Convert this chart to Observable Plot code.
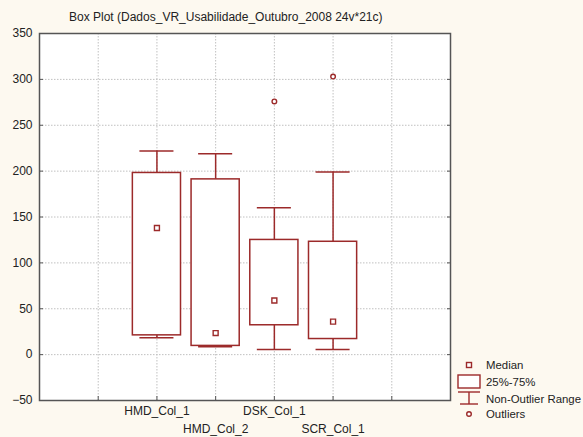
<!DOCTYPE html>
<html><head><meta charset="utf-8">
<script src="https://cdn.jsdelivr.net/npm/d3@7"></script>
<script src="https://cdn.jsdelivr.net/npm/@observablehq/plot@0.6"></script>
<style>
html,body{margin:0;padding:0;background:#fdf9f0;}
#wrap{position:relative;width:583px;height:437px;overflow:hidden;font-family:"Liberation Sans",Arial,sans-serif;}
#title{position:absolute;left:69px;top:10px;font-size:12px;line-height:14px;color:#222;white-space:nowrap;}
#legend{position:absolute;left:0;top:0;}
</style></head><body>
<div id="wrap"><div id="chart"></div><div id="title">Box Plot (Dados_VR_Usabilidade_Outubro_2008 24v*21c)</div>
<svg id="legend" width="583" height="437" style="pointer-events:none">
  <g stroke="#9c2a2a" stroke-width="1.4" fill="none">
    <rect x="466.5" y="362.5" width="5" height="5" fill="white"/>
    <rect x="458" y="375" width="22" height="13" fill="white"/>
    <line x1="458" y1="392" x2="480" y2="392"/>
    <line x1="469" y1="392" x2="469" y2="404"/>
    <line x1="460" y1="404" x2="478" y2="404"/>
    <circle cx="469" cy="414" r="2.3" fill="white"/>
  </g>
  <g font-family="Liberation Sans, Arial, sans-serif" font-size="11.4" fill="#222">
    <text x="486" y="369">Median</text>
    <text x="486" y="386">25%-75%</text>
    <text x="486" y="403">Non-Outlier Range</text>
    <text x="486" y="418">Outliers</text>
  </g>
</svg>
</div>
<script>
const categories = ["HMD_Col_1", "HMD_Col_2", "DSK_Col_1", "SCR_Col_1"];
const medians = [138, 23.5, 59, 36];
const q1 = [21, 9.5, 32, 17];
const q3 = [198, 191, 125, 123];
const whiskerLow = [18.5, 8.5, 5.5, 5.5];
const whiskerHigh = [222, 219, 160, 199];
const outlierCategory = ["DSK_Col_1", "SCR_Col_1"];
const outlierValues = [276, 303];
const yTicks = [-50, 0, 50, 100, 150, 200, 250, 300, 350];
const xGrid = [1, 2, 3, 4, 5, 6];

const red = "#9c2a2a";
const pos = (i) => i + 2;
const posOf = (c) => categories.indexOf(c) + 2;
const boxHalf = 0.41, capHalf = 0.29;
const gridStyle = {stroke: "#c0c0c0", strokeOpacity: 1, strokeDasharray: "1.5,1.5"};

const chart = Plot.plot({
  width: 583, height: 437,
  marginLeft: 39, marginRight: 133, marginTop: 33, marginBottom: 37,
  style: {background: "transparent", fontFamily: "Liberation Sans, Arial, sans-serif", fontSize: "12px", color: "#222"},
  x: {domain: [0, 7]},
  y: {domain: [-50, 350]},
  marks: [
    Plot.frame({fill: "white"}),
    Plot.gridY(yTicks, gridStyle),
    Plot.gridX(xGrid, gridStyle),
    Plot.ruleX(categories, {x: (d, i) => pos(i), y1: (d, i) => q3[i], y2: (d, i) => whiskerHigh[i], stroke: red, strokeWidth: 1.5}),
    Plot.ruleX(categories, {x: (d, i) => pos(i), y1: (d, i) => whiskerLow[i], y2: (d, i) => q1[i], stroke: red, strokeWidth: 1.5}),
    Plot.ruleY(categories, {y: (d, i) => whiskerHigh[i], x1: (d, i) => pos(i) - capHalf, x2: (d, i) => pos(i) + capHalf, stroke: red, strokeWidth: 1.5}),
    Plot.ruleY(categories, {y: (d, i) => whiskerLow[i], x1: (d, i) => pos(i) - capHalf, x2: (d, i) => pos(i) + capHalf, stroke: red, strokeWidth: 1.5}),
    Plot.rect(categories, {x1: (d, i) => pos(i) - boxHalf, x2: (d, i) => pos(i) + boxHalf, y1: (d, i) => q1[i], y2: (d, i) => q3[i], fill: "white", stroke: red, strokeWidth: 1.5}),
    Plot.dot(categories, {x: (d, i) => pos(i), y: (d, i) => medians[i], symbol: "square", r: 2.8, fill: "white", stroke: red, strokeWidth: 1.4}),
    Plot.dot(outlierCategory, {x: (d) => posOf(d), y: (d, i) => outlierValues[i], r: 2.3, fill: "white", stroke: red, strokeWidth: 1.4}),
    Plot.frame({stroke: "#555", strokeWidth: 1.5}),
    Plot.axisY({ticks: yTicks, tickSize: 0, tickPadding: 7, fill: "#222", fontSize: 12}),
    Plot.axisY({ticks: yTicks, anchor: "left", tickSize: -4, tickFormat: () => "", stroke: "#555"}),
    Plot.axisY({ticks: yTicks, anchor: "right", tickSize: -4, tickFormat: () => "", stroke: "#555"}),
    Plot.axisX({ticks: xGrid, anchor: "bottom", tickSize: -4, tickFormat: () => "", stroke: "#555"}),
    Plot.axisX({ticks: [2, 4], tickSize: 0, tickPadding: 6, tickFormat: (t) => categories[t - 2], fill: "#222", fontSize: 12}),
    Plot.axisX({ticks: [3, 5], tickSize: 0, tickPadding: 24, tickFormat: (t) => categories[t - 2], fill: "#222", fontSize: 12})
  ]
});
document.getElementById("chart").appendChild(chart);
</script>
</body></html>
